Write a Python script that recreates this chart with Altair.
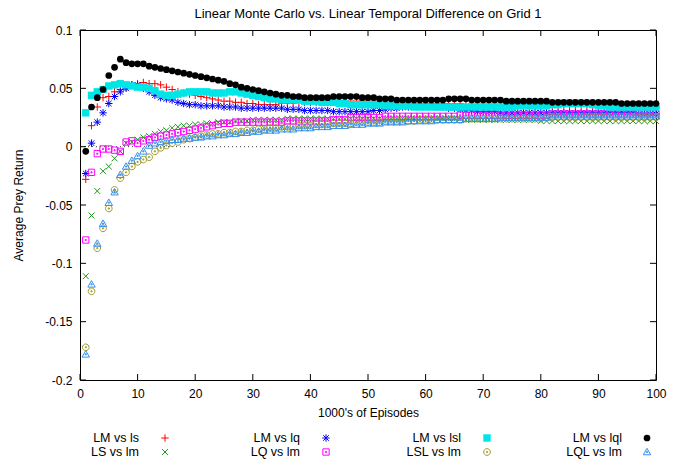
import altair as alt
import pandas as pd

episodes = list(range(1, 101))

lm_vs_ls = [
    -0.028, 0.018, 0.034, 0.042, 0.043, 0.047, 0.049, 0.051, 0.053, 0.054,
    0.055, 0.054, 0.054, 0.053, 0.051, 0.049, 0.047, 0.046, 0.045, 0.044,
    0.043, 0.042, 0.041, 0.040, 0.039, 0.039, 0.038, 0.038, 0.037, 0.037,
    0.036, 0.036, 0.036, 0.036, 0.037, 0.037, 0.037, 0.038, 0.038, 0.038,
    0.038, 0.038, 0.038, 0.039, 0.039, 0.039, 0.039, 0.039, 0.039, 0.039,
    0.038, 0.038, 0.038, 0.038, 0.037, 0.037, 0.037, 0.037, 0.037, 0.037,
    0.037, 0.037, 0.037, 0.037, 0.037, 0.037, 0.036, 0.036, 0.036, 0.036,
    0.036, 0.036, 0.036, 0.036, 0.036, 0.036, 0.036, 0.036, 0.035, 0.035,
    0.035, 0.035, 0.035, 0.035, 0.035, 0.035, 0.035, 0.035, 0.035, 0.035,
    0.035, 0.035, 0.035, 0.034, 0.034, 0.034, 0.034, 0.034, 0.034, 0.034,
]
ls_vs_lm = [
    -0.111, -0.059, -0.038, -0.021, -0.017, -0.010, -0.004, 0.003, 0.004, 0.006,
    0.008, 0.009, 0.011, 0.013, 0.014, 0.016, 0.017, 0.018, 0.018, 0.019,
    0.019, 0.020, 0.020, 0.021, 0.021, 0.021, 0.022, 0.022, 0.022, 0.023,
    0.023, 0.023, 0.023, 0.023, 0.023, 0.024, 0.024, 0.024, 0.024, 0.024,
    0.024, 0.024, 0.024, 0.024, 0.024, 0.024, 0.024, 0.024, 0.024, 0.024,
    0.024, 0.024, 0.024, 0.024, 0.024, 0.024, 0.024, 0.024, 0.024, 0.024,
    0.024, 0.024, 0.024, 0.024, 0.024, 0.024, 0.023, 0.023, 0.023, 0.023,
    0.023, 0.023, 0.023, 0.023, 0.023, 0.023, 0.023, 0.023, 0.023, 0.022,
    0.022, 0.022, 0.022, 0.022, 0.022, 0.022, 0.022, 0.022, 0.022, 0.022,
    0.022, 0.022, 0.022, 0.022, 0.022, 0.022, 0.022, 0.022, 0.022, 0.022,
]
lm_vs_lq = [
    -0.023, 0.003, 0.021, 0.029, 0.037, 0.043, 0.047, 0.050, 0.053, 0.053,
    0.050, 0.047, 0.044, 0.042, 0.041, 0.040, 0.038, 0.037, 0.036, 0.036,
    0.035, 0.035, 0.035, 0.035, 0.034, 0.034, 0.034, 0.033, 0.033, 0.033,
    0.033, 0.033, 0.033, 0.033, 0.033, 0.032, 0.032, 0.032, 0.031, 0.031,
    0.031, 0.031, 0.031, 0.030, 0.030, 0.030, 0.030, 0.030, 0.030, 0.030,
    0.031, 0.031, 0.032, 0.033, 0.033, 0.034, 0.034, 0.035, 0.035, 0.035,
    0.035, 0.034, 0.034, 0.033, 0.033, 0.032, 0.031, 0.031, 0.030, 0.030,
    0.030, 0.030, 0.029, 0.029, 0.029, 0.029, 0.029, 0.029, 0.029, 0.029,
    0.029, 0.029, 0.029, 0.029, 0.029, 0.029, 0.029, 0.029, 0.029, 0.029,
    0.029, 0.029, 0.029, 0.029, 0.029, 0.029, 0.028, 0.028, 0.028, 0.028,
]
lq_vs_lm = [
    -0.080, -0.022, -0.006, -0.002, -0.002, -0.003, -0.004, 0.004, 0.005, 0.003,
    0.005, 0.006, 0.008, 0.009, 0.010, 0.011, 0.012, 0.013, 0.014, 0.015,
    0.016, 0.017, 0.018, 0.019, 0.020, 0.020, 0.021, 0.021, 0.021, 0.021,
    0.021, 0.021, 0.021, 0.021, 0.021, 0.022, 0.022, 0.022, 0.022, 0.022,
    0.022, 0.022, 0.022, 0.023, 0.023, 0.023, 0.025, 0.025, 0.025, 0.025,
    0.025, 0.025, 0.026, 0.026, 0.026, 0.026, 0.026, 0.026, 0.026, 0.026,
    0.026, 0.026, 0.026, 0.026, 0.026, 0.027, 0.027, 0.027, 0.027, 0.027,
    0.027, 0.027, 0.027, 0.027, 0.027, 0.027, 0.027, 0.027, 0.027, 0.027,
    0.027, 0.028, 0.028, 0.028, 0.028, 0.028, 0.028, 0.028, 0.028, 0.028,
    0.028, 0.028, 0.028, 0.028, 0.028, 0.028, 0.028, 0.028, 0.028, 0.028,
]
lm_vs_lsl = [
    0.029, 0.044, 0.047, 0.049, 0.052, 0.053, 0.054, 0.053, 0.052, 0.051,
    0.051, 0.050, 0.048, 0.045, 0.044, 0.044, 0.045, 0.046, 0.047, 0.047,
    0.047, 0.047, 0.046, 0.046, 0.046, 0.047, 0.047, 0.046, 0.045, 0.044,
    0.043, 0.042, 0.041, 0.041, 0.040, 0.040, 0.040, 0.040, 0.039, 0.039,
    0.039, 0.038, 0.038, 0.038, 0.037, 0.037, 0.036, 0.036, 0.036, 0.036,
    0.036, 0.036, 0.035, 0.035, 0.035, 0.035, 0.035, 0.034, 0.034, 0.034,
    0.034, 0.034, 0.034, 0.034, 0.034, 0.034, 0.034, 0.034, 0.034, 0.034,
    0.034, 0.034, 0.034, 0.034, 0.034, 0.035, 0.035, 0.035, 0.035, 0.035,
    0.035, 0.036, 0.036, 0.037, 0.037, 0.037, 0.037, 0.037, 0.036, 0.035,
    0.035, 0.034, 0.034, 0.034, 0.034, 0.034, 0.034, 0.034, 0.034, 0.034,
]
lsl_vs_lm = [
    -0.172, -0.124, -0.087, -0.070, -0.053, -0.037, -0.027, -0.022, -0.017, -0.013,
    -0.011, -0.009, -0.004, -0.001, 0.001, 0.003, 0.004, 0.006, 0.007, 0.008,
    0.009, 0.010, 0.011, 0.011, 0.012, 0.012, 0.013, 0.013, 0.014, 0.014,
    0.015, 0.015, 0.016, 0.016, 0.017, 0.017, 0.017, 0.018, 0.018, 0.018,
    0.019, 0.019, 0.019, 0.020, 0.020, 0.020, 0.020, 0.021, 0.021, 0.021,
    0.021, 0.021, 0.022, 0.022, 0.022, 0.022, 0.022, 0.022, 0.023, 0.023,
    0.023, 0.023, 0.023, 0.023, 0.023, 0.023, 0.024, 0.024, 0.024, 0.024,
    0.024, 0.024, 0.024, 0.024, 0.024, 0.024, 0.024, 0.024, 0.024, 0.024,
    0.025, 0.025, 0.025, 0.025, 0.025, 0.025, 0.025, 0.025, 0.025, 0.025,
    0.025, 0.025, 0.025, 0.025, 0.025, 0.025, 0.025, 0.025, 0.025, 0.025,
]
lm_vs_lql = [
    -0.004, 0.034, 0.042, 0.049, 0.061, 0.068, 0.075, 0.072, 0.071, 0.071,
    0.071, 0.069, 0.068, 0.067, 0.066, 0.065, 0.064, 0.063, 0.062, 0.061,
    0.060, 0.059, 0.058, 0.057, 0.056, 0.054, 0.053, 0.051, 0.050, 0.049,
    0.048, 0.047, 0.046, 0.045, 0.044, 0.044, 0.043, 0.043, 0.042, 0.042,
    0.042, 0.042, 0.042, 0.043, 0.043, 0.043, 0.043, 0.043, 0.042, 0.042,
    0.042, 0.041, 0.041, 0.041, 0.040, 0.040, 0.040, 0.040, 0.040, 0.040,
    0.040, 0.040, 0.040, 0.041, 0.041, 0.041, 0.041, 0.040, 0.040, 0.040,
    0.040, 0.040, 0.040, 0.039, 0.039, 0.039, 0.039, 0.039, 0.039, 0.039,
    0.039, 0.038, 0.038, 0.038, 0.038, 0.038, 0.038, 0.038, 0.038, 0.038,
    0.038, 0.038, 0.038, 0.037, 0.037, 0.037, 0.037, 0.037, 0.037, 0.037,
]
lql_vs_lm = [
    -0.178, -0.118, -0.083, -0.066, -0.048, -0.039, -0.024, -0.017, -0.012, -0.008,
    -0.004, 0.001, 0.003, 0.004, 0.005, 0.006, 0.006, 0.007, 0.007, 0.008,
    0.008, 0.009, 0.009, 0.010, 0.010, 0.011, 0.011, 0.012, 0.012, 0.013,
    0.013, 0.014, 0.014, 0.014, 0.015, 0.015, 0.015, 0.016, 0.016, 0.016,
    0.017, 0.017, 0.017, 0.018, 0.018, 0.018, 0.019, 0.019, 0.019, 0.020,
    0.020, 0.020, 0.021, 0.021, 0.021, 0.021, 0.022, 0.022, 0.022, 0.022,
    0.022, 0.023, 0.023, 0.023, 0.023, 0.023, 0.024, 0.024, 0.024, 0.024,
    0.024, 0.024, 0.025, 0.025, 0.025, 0.025, 0.025, 0.025, 0.025, 0.025,
    0.025, 0.026, 0.026, 0.026, 0.026, 0.026, 0.026, 0.026, 0.026, 0.026,
    0.026, 0.026, 0.026, 0.026, 0.026, 0.026, 0.026, 0.026, 0.026, 0.026,
]

series_names = ["LM vs ls", "LS vs lm", "LM vs lq", "LQ vs lm",
                "LM vs lsl", "LSL vs lm", "LM vs lql", "LQL vs lm"]
series_values = [lm_vs_ls, ls_vs_lm, lm_vs_lq, lq_vs_lm,
                 lm_vs_lsl, lsl_vs_lm, lm_vs_lql, lql_vs_lm]
series_colors = ["#ff0000", "#1f961f", "#0000ff", "#ff00ff",
                 "#00e6e6", "#9e9a2a", "#000000", "#3390f0"]

x_ticks = list(range(0, 101, 10))
y_ticks = [-0.2, -0.15, -0.1, -0.05, 0, 0.05, 0.1]

TITLE = "Linear Monte Carlo vs. Linear Temporal Difference on Grid 1"
FONT = "Liberation Sans"

# marker glyphs (gnuplot point types 1..8)
DOT = "M-0.15,-0.15L0.15,-0.15L0.15,0.15L-0.15,0.15Z"
PLUS = "M-1,0L1,0M0,-1L0,1"
CROSS = "M-0.8,-0.8L0.8,0.8M-0.8,0.8L0.8,-0.8"
STAR = "M-1,0L1,0M0,-1L0,1M-0.75,-0.75L0.75,0.75M-0.75,0.75L0.75,-0.75"
BOX = "M-0.85,-0.85L0.85,-0.85L0.85,0.85L-0.85,0.85Z" + DOT
CIRC = "M0.9,0A0.9,0.9,0,1,1,-0.9,0A0.9,0.9,0,1,1,0.9,0Z" + DOT
TRI = "M0,-1L1,0.75L-1,0.75Z" + DOT
marker_specs = [
    dict(shape=PLUS, filled=False, size=55),
    dict(shape=CROSS, filled=False, size=55),
    dict(shape=STAR, filled=False, size=55),
    dict(shape=BOX, filled=False, size=55),
    dict(shape="square", filled=True, size=55),
    dict(shape=CIRC, filled=False, size=55),
    dict(shape="circle", filled=True, size=45),
    dict(shape=TRI, filled=False, size=55),
]

rows = []
for name, vals in zip(series_names, series_values):
    for e, v in zip(episodes, vals):
        rows.append({"series": name, "episode": e, "ret": v})
df = pd.DataFrame(rows)

W, H = 576, 350
xscale = alt.Scale(domain=[0, 100], nice=False)
yscale = alt.Scale(domain=[-0.2, 0.1], nice=False, zero=False)

x_axis = alt.Axis(values=x_ticks, tickSize=0, domain=False, grid=False,
                  labelFont=FONT, labelFontSize=12, labelColor="black",
                  labelPadding=8, labelFlush=False, labelOverlap=False,
                  title="1000's of Episodes", titleFont=FONT, titleFontSize=12,
                  titleFontWeight="normal", titleColor="black",
                  titleX=W / 2, titleY=32, titleBaseline="middle", titleAlign="center")
y_axis = alt.Axis(values=y_ticks, tickSize=0, domain=False, grid=False,
                  labelFont=FONT, labelFontSize=12, labelColor="black",
                  labelPadding=8, labelFlush=False, labelOverlap=False,
                  labelExpr="toString(datum.value)",
                  title="Average Prey Return", titleFont=FONT, titleFontSize=12,
                  titleFontWeight="normal", titleColor="black",
                  titleX=-62, titleY=H / 2, titleBaseline="middle", titleAlign="center",
                  titleAngle=270)

X = lambda: alt.X("episode:Q", scale=xscale, axis=x_axis)
Y = lambda: alt.Y("ret:Q", scale=yscale, axis=y_axis)

layers = []

# zero line
layers.append(
    alt.Chart(pd.DataFrame({"ret": [0]})).mark_rule(color="#444444", strokeDash=[1, 3], strokeWidth=1)
    .encode(y=Y(), x=alt.value(0), x2=alt.value(W))
)

# inward ticks on all four sides
xt = pd.DataFrame({"episode": x_ticks})
yt = pd.DataFrame({"ret": y_ticks})
layers.append(alt.Chart(xt).mark_rule(color="black").encode(
    x=X(), y=alt.value(H), y2=alt.value(H - 6)))
layers.append(alt.Chart(xt).mark_rule(color="black").encode(
    x=X(), y=alt.value(0), y2=alt.value(6)))
layers.append(alt.Chart(yt).mark_rule(color="black").encode(
    y=Y(), x=alt.value(0), x2=alt.value(6)))
layers.append(alt.Chart(yt).mark_rule(color="black").encode(
    y=Y(), x=alt.value(W), x2=alt.value(W - 6)))

legend_text_x = [59, 220, 381, 542]
legend_mark_x = [85, 246, 407, 567]
legend_row_y = [408, 422]

for i, (name, color, spec) in enumerate(zip(series_names, series_colors, marker_specs)):
    layers.append(
        alt.Chart(df).transform_filter(alt.datum.series == name)
        .mark_point(shape=spec["shape"], filled=spec["filled"], size=spec["size"],
                    color=color, opacity=1, strokeWidth=1)
        .encode(x=X(), y=Y())
    )
    col, row = i // 2, i % 2
    leg = alt.Chart(alt.InlineData(values=[{"label": name}]))
    layers.append(
        leg.mark_point(shape=spec["shape"], filled=spec["filled"], size=spec["size"],
                       color=color, opacity=1, strokeWidth=1)
        .encode(x=alt.value(legend_mark_x[col]), y=alt.value(legend_row_y[row]))
    )
    layers.append(
        leg.mark_text(align="right", baseline="middle", font=FONT, fontSize=12.5, color="black")
        .encode(text="label:N", x=alt.value(legend_text_x[col]), y=alt.value(legend_row_y[row]))
    )

chart = alt.layer(*layers).properties(
    width=W, height=H,
    title=alt.TitleParams(text=TITLE, font=FONT, fontSize=13, fontWeight="normal",
                          color="black", anchor="middle", offset=3),
    autosize=alt.AutoSizeParams(type="none"),
    padding={"left": 80, "top": 30, "right": 22, "bottom": 81},
    background="white",
).configure_view(stroke="black", strokeWidth=1)

chart.save("out.html", embed_options={"renderer": "svg", "actions": False})
